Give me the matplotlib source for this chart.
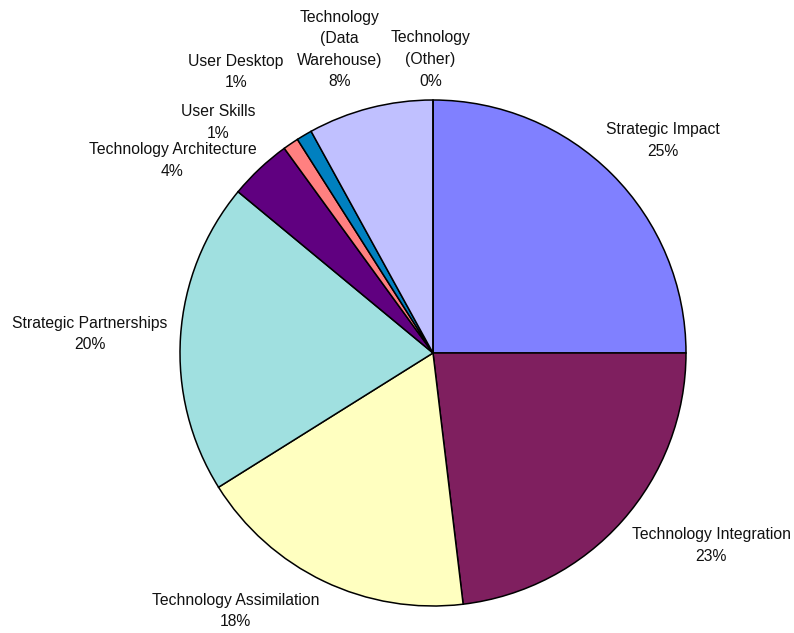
import matplotlib
matplotlib.use('Agg')
import matplotlib.pyplot as plt

plt.rcParams['font.family'] = ['Liberation Sans', 'DejaVu Sans']

categories = ['Strategic Impact', 'Technology Integration', 'Technology Assimilation',
              'Strategic Partnerships', 'Technology Architecture', 'User Skills',
              'User Desktop', 'Technology\n(Data\nWarehouse)', 'Technology\n(Other)']
values = [25.0, 23.1, 18.0, 19.9, 4.0, 1.0, 1.0, 8.0, 0.0]
colors = ['#8080FF', '#7F1F5F', '#FFFFC0', '#A0E0E0', '#600080', '#FF8080',
          '#0080C0', '#C0C0FF', '#FFFFFF']

# where each label block sits, in pie radius units
label_pos = [(0.91, 0.84), (1.10, -0.76), (-0.78, -1.02), (-1.355, 0.075),
             (-1.03, 0.76), (-0.85, 0.91), (-0.78, 1.11), (-0.37, 1.20), (-0.01, 1.16)]

fig = plt.figure(figsize=(7.94, 6.33), dpi=100)
ax = fig.add_axes([180/794, 27/633, 506/794, 506/633])

labels = [f'{c}\n{round(v)}%' for c, v in zip(categories, values)]
wedges, texts = ax.pie(values, labels=labels, colors=colors, startangle=90,
                       counterclock=False, radius=1.0,
                       wedgeprops=dict(edgecolor='black', linewidth=1.1),
                       textprops=dict(fontsize=11.3, color='#111111'))
for t, p in zip(texts, label_pos):
    t.set_position(p)
    t.set_ha('center')
    t.set_va('center')
    t.set_linespacing(1.55)

ax.set_xlim(-1, 1)
ax.set_ylim(-1, 1)
ax.set_aspect('equal')
ax.axis('off')

fig.savefig('out.png', dpi=100)
